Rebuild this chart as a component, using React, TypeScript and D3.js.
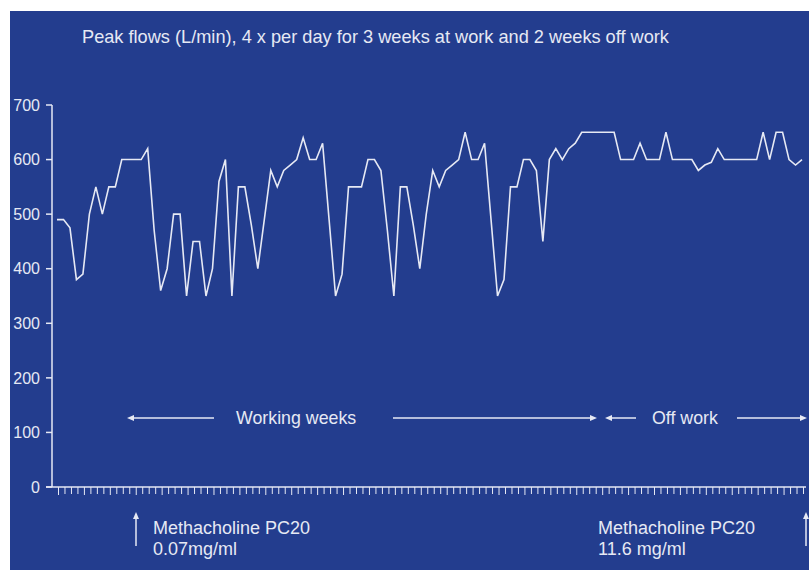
import * as d3 from "d3";

// peak flow readings, 4 per day (L/min)
const readings = [
  490, 490, 475, 380, 390, 500, 550, 500, 550, 550, 600, 600, 600, 600, 620, 470,
  360, 400, 500, 500, 350, 450, 450, 350, 400, 560, 600, 350, 550, 550, 480, 400,
  490, 580, 550, 580, 590, 600, 640, 600, 600, 630, 490, 350, 390, 550, 550, 550,
  600, 600, 580, 470, 350, 550, 550, 480, 400, 500, 580, 550, 580, 590, 600, 650,
  600, 600, 630, 490, 350, 380, 550, 550, 600, 600, 580, 450, 600, 620, 600, 620,
  630, 650, 650, 650, 650, 650, 650, 600, 600, 600, 630, 600, 600, 600, 650, 600,
  600, 600, 600, 580, 590, 595, 620, 600, 600, 600, 600, 600, 600, 650, 600, 650,
  650, 600, 590, 600,
];
const yTicks = [0, 100, 200, 300, 400, 500, 600, 700];

const title = "Peak flows (L/min), 4 x per day for 3 weeks at work and 2 weeks off work";
const periodLabels = ["Working weeks", "Off work"];
const pc20Before = ["Methacholine PC20", "0.07mg/ml"];
const pc20After = ["Methacholine PC20", "11.6 mg/ml"];

const W = 809;
const H = 570;
const BG = "#233d8e";
const FG = "#e6e9f4";
const FONT = "'Liberation Sans', Arial, sans-serif";

// small filled arrowhead, tip at (x,y), pointing in dir
const head = (x: number, y: number, dir: "l" | "r" | "u") => {
  if (dir === "l") return `M${x},${y}L${x + 7},${y - 3}L${x + 7},${y + 3}Z`;
  if (dir === "r") return `M${x},${y}L${x - 7},${y - 3}L${x - 7},${y + 3}Z`;
  return `M${x},${y}L${x - 3},${y + 7}L${x + 3},${y + 7}Z`;
};

export default function App() {
  const x = d3.scaleLinear().domain([0, readings.length - 1]).range([57, 802]);
  const y = d3.scaleLinear().domain([0, 700]).range([487, 105]);
  const line = d3
    .line<number>()
    .x((_, i) => x(i))
    .y((d) => y(d));

  const rowY = 418;

  return (
    <svg
      width={W}
      height={H}
      style={{ position: "absolute", left: 0, top: 0, fontFamily: FONT }}
    >
      <rect x={0} y={0} width={W} height={H} fill="#fff" />
      <rect x={10} y={11} width={W - 10} height={H - 11} fill={BG} />

      <text x={82} y={43} fontSize={18.2} fill={FG}>
        {title}
      </text>

      {/* y axis */}
      <line x1={52} x2={52} y1={y(700)} y2={y(0)} stroke={FG} strokeWidth={1.5} />
      {yTicks.map((t) => (
        <g key={t}>
          <line x1={46} x2={52} y1={y(t)} y2={y(t)} stroke={FG} strokeWidth={1.5} />
          <text
            x={40}
            y={y(t)}
            dy="0.36em"
            textAnchor="end"
            fontSize={16}
            fill={FG}
          >
            {t}
          </text>
        </g>
      ))}

      {/* x axis, one tick per reading */}
      <line x1={46} x2={806} y1={y(0)} y2={y(0)} stroke={FG} strokeWidth={1.5} />
      {readings.map((_, i) => (
        <line
          key={i}
          x1={x(i) + 1.5}
          x2={x(i) + 1.5}
          y1={y(0)}
          y2={y(0) + (i % 4 === 0 ? 8 : 7)}
          stroke={FG}
          strokeWidth={1}
        />
      ))}

      <path d={line(readings) ?? ""} fill="none" stroke={FG} strokeWidth={1.6} />

      {/* period arrows */}
      <g stroke={FG} strokeWidth={1.5}>
        <line x1={130} x2={214} y1={rowY} y2={rowY} />
        <line x1={393} x2={592} y1={rowY} y2={rowY} />
        <line x1={609} x2={636} y1={rowY} y2={rowY} />
        <line x1={737} x2={802} y1={rowY} y2={rowY} />
        <line x1={136} x2={136} y1={546} y2={516} />
        <line x1={806} x2={806} y1={546} y2={516} />
      </g>
      <g fill={FG}>
        <path d={head(127, rowY, "l")} />
        <path d={head(597, rowY, "r")} />
        <path d={head(605, rowY, "l")} />
        <path d={head(807, rowY, "r")} />
        <path d={head(136, 512, "u")} />
        <path d={head(806, 512, "u")} />
      </g>
      <text x={236} y={rowY + 6} fontSize={17.8} fill={FG}>
        {periodLabels[0]}
      </text>
      <text x={652} y={rowY + 6} fontSize={17.8} fill={FG}>
        {periodLabels[1]}
      </text>

      {/* PC20 notes */}
      {pc20Before.map((s, i) => (
        <text key={s} x={153} y={534 + i * 21} fontSize={18} fill={FG}>
          {s}
        </text>
      ))}
      {pc20After.map((s, i) => (
        <text key={s} x={598} y={534 + i * 21} fontSize={18} fill={FG}>
          {s}
        </text>
      ))}
    </svg>
  );
}
